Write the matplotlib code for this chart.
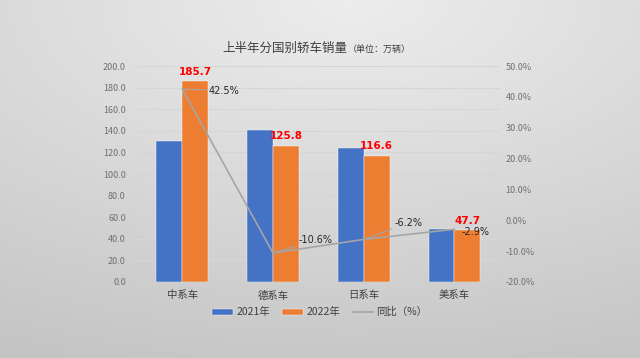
import matplotlib
matplotlib.use("Agg")
import matplotlib.pyplot as plt
import numpy as np
from matplotlib.ticker import FuncFormatter

plt.rcParams['font.family'] = ['Noto Sans CJK SC', 'DejaVu Sans']

categories = ['中系车', '德系车', '日系车', '美系车']
sales_2021 = [130.3, 140.7, 124.3, 49.1]
sales_2022 = [185.7, 125.8, 116.6, 47.7]
yoy = [42.5, -10.6, -6.2, -2.9]
yoy_labels = ['42.5%', '-10.6%', '-6.2%', '-2.9%']

fig = plt.figure(figsize=(6.4, 3.58), dpi=100)

# background gradient
bg = fig.add_axes([0, 0, 1, 1], zorder=-10)
h, w = 200, 320
yy, xx = np.mgrid[0:1:h*1j, 0:1:w*1j]
d = np.sqrt(((xx - 0.55) * 1.0) ** 2 + ((yy - 0.0) * 1.1) ** 2)
vals = 0.93 - 0.16 * np.clip(d, 0, 1.2) / 1.2
img = np.dstack([vals, vals, vals])
bg.imshow(img, aspect='auto', extent=[0, 1, 0, 1], origin='upper')
bg.axis('off')

ax = fig.add_axes([0.214, 0.2123, 0.567, 0.6033])
ax.patch.set_alpha(0)
x = np.arange(len(categories))
bw = 0.286
b1 = ax.bar(x - bw/2, sales_2021, bw, color='#4472C4', label='2021年', zorder=3,
            edgecolor='white', linewidth=0.3)
b2 = ax.bar(x + bw/2, sales_2022, bw, color='#ED7D31', label='2022年', zorder=3,
            edgecolor='white', linewidth=0.3)
for xi, v in zip(x, sales_2022):
    ax.text(xi + bw/2, v + 4.5, f'{v:.1f}', color='#FF0000', fontsize=7.5,
            fontweight='bold', ha='center', va='bottom', family=['DejaVu Sans'])

ax.set_xlim(-0.5, 3.5)
ax.set_ylim(0, 200)
ax.set_yticks(np.arange(0, 201, 20))
ax.yaxis.set_major_formatter(FuncFormatter(lambda v, p: f'{v:.1f}'))
ax.grid(axis='y', color='#d6d6d6', linewidth=0.8, zorder=0)
for s in ['top', 'right', 'left']:
    ax.spines[s].set_visible(False)
ax.spines['bottom'].set_color('#d0d0d0')
ax.tick_params(axis='both', length=0)
ax.tick_params(axis='y', labelsize=6.5, labelcolor='#707070', pad=8)
ax.set_xticks(x)
ax.set_xticklabels(categories, fontsize=7.5, color='#404040')
ax.tick_params(axis='x', pad=6)

ax2 = ax.twinx()
ax2.set_ylim(-20, 50)
ax2.set_yticks(np.arange(-20, 51, 10))
ax2.yaxis.set_major_formatter(FuncFormatter(lambda v, p: f'{v:.1f}%'))
ax2.tick_params(axis='y', length=0, labelsize=6.5, labelcolor='#707070', pad=4)
for s in ['top', 'right', 'left', 'bottom']:
    ax2.spines[s].set_visible(False)
ln, = ax2.plot(x, yoy, color='#A5A5A5', linewidth=1.2, label='同比（%）', zorder=4)

offsets = [(19, -1), (18, 9), (22, 12), (5, -2)]
leaders = [True, True, True, False]
for xi, v, lab, off, ld in zip(x, yoy, yoy_labels, offsets, leaders):
    kw = {}
    if ld:
        kw['arrowprops'] = dict(arrowstyle='-', color='#A5A5A5', lw=0.8,
                                shrinkA=0, shrinkB=0)
    ax2.annotate(lab, (xi, v), xytext=off, textcoords='offset points',
                 fontsize=7, color='#262626', ha='left', va='center',
                 family=['DejaVu Sans'], **kw)

fig.text(0.543, 0.865, '上半年分国别轿车销量', fontsize=9, color='#404040',
         ha='right', va='center')
fig.text(0.543, 0.862, '（单位：万辆）', fontsize=6.5, color='#404040', ha='left', va='center')

handles = [b1, b2, ln]
fig.legend(handles, ['2021年', '2022年', '同比（%）'], loc='center',
           bbox_to_anchor=(0.5, 0.128), ncol=3, frameon=False, fontsize=7.5,
           handlelength=2.0, handleheight=0.5, columnspacing=1.2, handletextpad=0.3,
           labelcolor='#404040')

fig.savefig('out.png', dpi=100)
